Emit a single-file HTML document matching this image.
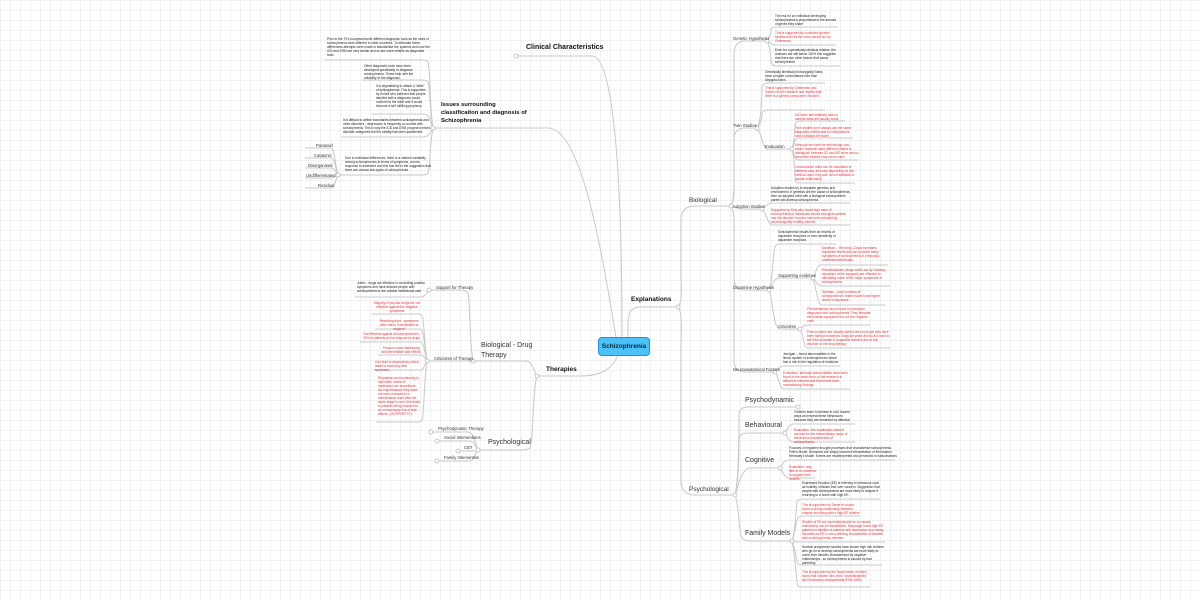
<!DOCTYPE html>
<html><head><meta charset="utf-8"><style>
html,body{margin:0;padding:0}
body{width:1200px;height:600px;position:relative;overflow:hidden;background-color:#fff;
background-image:linear-gradient(#f1f1f1 1px,transparent 1px),linear-gradient(90deg,#f1f1f1 1px,transparent 1px);background-size:10px 10px;
font-family:"Liberation Sans",sans-serif}
.t{position:absolute;font-size:8px;line-height:10px;color:#222;transform:scale(.4);transform-origin:0 0;width:calc(var(--w) * 2.5px)}
.r{color:#e8343b}
.b{position:absolute;font-weight:bold;font-size:7px;color:#111;line-height:10px}
.m{position:absolute;font-size:7px;color:#333;line-height:10px}
.s{position:absolute;font-size:8.4px;color:#333;transform:scale(.5);transform-origin:0 0;white-space:nowrap}
svg{position:absolute;left:0;top:0}
.c{position:absolute;left:598px;top:337px;width:50px;height:17px;background:#4cc2fa;border:1.5px solid #1f8fe6;border-radius:4px;font-weight:bold;font-size:6.5px;line-height:17px;text-align:center;color:#123}
</style></head><body>
<svg width="1200" height="600" fill="none" stroke="#c9c9c9" stroke-width="1">
<path d="M622 337 C622 160 612 56 592 56 L516 56"/>
<path d="M616 337 C600 240 580 128 548 128 L433 128"/>
<path d="M628 337 C628 320 626 307 640 307 L678 307"/>
<path d="M618 355 C612 370 600 376 580 376 L537 376"/>
<path d="M678 307 C683 300 681 290 681 270 L681 220 Q681 206 695 206 L731 206"/>
<path d="M678 307 C683 314 681 330 681 350 L681 480 Q681 495 695 495 L735 495"/>
<path d="M731 206 C735 200 734 190 734 170 L734 55 Q734 41 745 41 L767 41"/>
<path d="M731 206 C734 200 734 190 734 170 L734 140 Q734 128 745 128 L757 128"/>
<path d="M731 206 C734 206 734 209 745 209 L762 209"/>
<path d="M731 206 C735 212 734 222 734 240 L734 278 Q734 290 745 290 L769 290"/>
<path d="M731 206 C735 212 734 222 734 250 L734 360 Q734 372 745 372 L775 372"/>
<path d="M767 41 C770 36 771 32 771 30 Q771 27 776 27 L838 27"/>
<path d="M767 41 C770 42 770 45 776 45 L836 45"/>
<path d="M767 41 C770 46 771 58 771 60 Q771 66 776 66 L840 66"/>
<path d="M757 128 C762 120 762 90 762 88 Q762 83 768 83 L825 83"/>
<path d="M757 128 C762 122 762 115 762 114 Q762 110 768 110 L825 110"/>
<path d="M757 128 C762 134 762 145 766 149 L792 149"/>
<path d="M792 149 C795 140 794 125 796 123 Q796 121 800 121 L845 121"/>
<path d="M792 149 C795 144 794 140 796 139 Q797 138 800 138 L853 138"/>
<path d="M792 149 C795 154 794 158 796 159 Q797 160 800 160 L858 160"/>
<path d="M792 149 C795 158 794 180 796 182 Q797 183 800 183 L855 183"/>
<path d="M762 209 C766 206 768 203 772 203 L850 203"/>
<path d="M762 209 C766 212 768 225 772 225 L850 225"/>
<path d="M769 290 C773 280 773 250 775 247 Q776 244 780 244 L836 244"/>
<path d="M769 290 C773 285 773 278 780 278 L813 278"/>
<path d="M769 290 C773 300 773 329 780 329 L800 329"/>
<path d="M813 278 C817 270 817 266 820 265 L888 265"/>
<path d="M813 278 C817 282 817 286 822 286 L890 286"/>
<path d="M813 278 C817 290 817 305 822 305 L885 305"/>
<path d="M800 329 C804 326 804 325 808 325 L870 325"/>
<path d="M800 329 C804 335 803 348 808 348 L890 348"/>
<path d="M775 372 C779 369 779 366 784 366 L840 366"/>
<path d="M775 372 C779 376 779 389 784 389 L850 389"/>
<path d="M735 495 C739 480 739 420 739 415 Q739 407 748 407 L798 407"/>
<path d="M735 495 C739 480 739 445 739 440 Q739 433 748 433 L785 433"/>
<path d="M735 495 C739 485 739 475 748 468 L780 468"/>
<path d="M735 495 C739 505 739 530 741 536 Q743 541 750 541 L792 541"/>
<path d="M785 433 C788 428 789 424 794 424 L855 424"/>
<path d="M785 433 C788 438 789 442 794 442 L855 442"/>
<path d="M780 468 C783 463 784 460 790 460 L895 460"/>
<path d="M780 468 C783 472 784 478 790 478 L815 478"/>
<path d="M792 541 C796 530 796 505 797 502 Q798 499 802 499 L880 499"/>
<path d="M792 541 C796 530 796 520 798 518 Q799 516 803 516 L860 516"/>
<path d="M792 541 C796 542 796 542 802 542 L885 542"/>
<path d="M792 541 C796 550 796 562 798 564 Q800 565 803 565 L882 565"/>
<path d="M792 541 C796 560 796 584 798 586 Q800 587 803 587 L870 587"/>
<path d="M433 128 C430 115 430 65 428 62 Q427 60 422 60 L325 60"/>
<path d="M433 128 C430 115 430 85 428 82 Q427 80 422 80 L362 80"/>
<path d="M433 128 C430 122 430 117 428 116 Q427 114 422 114 L372 114"/>
<path d="M433 128 C430 132 430 136 424 137 L341 137"/>
<path d="M433 128 C430 140 430 170 428 173 Q427 175 422 175 L338 175"/>
<path d="M338 175 C335 165 335 150 331 148 L305 148"/>
<path d="M338 175 C335 168 335 158 331 158 L305 158"/>
<path d="M338 175 C335 172 335 168 331 168 L305 168"/>
<path d="M338 175 C335 176 335 178 331 178 L305 178"/>
<path d="M338 175 C335 180 335 188 331 188 L305 188"/>
<path d="M537 376 C533 370 533 361 525 361 L473 361"/>
<path d="M537 376 C533 385 533 445 530 448 Q528 450 520 450 L478 450"/>
<path d="M473 361 C470 350 470 300 468 293 Q466 290 460 290 L429 290"/>
<path d="M473 361 C470 361 470 361 465 361 L427 361"/>
<path d="M429 290 C426 294 425 297 420 297 L355 297"/>
<path d="M427 361 C424 340 424 318 422 316 Q421 314 418 314 L372 314"/>
<path d="M427 361 C424 345 424 331 421 329 L375 329"/>
<path d="M427 361 C424 350 424 344 421 342 L360 342"/>
<path d="M427 361 C424 357 424 356 421 355 L378 355"/>
<path d="M427 361 C424 365 424 370 421 370 L374 370"/>
<path d="M427 361 C424 380 424 418 422 420 Q421 422 418 422 L376 422"/>
<path d="M478 450 C474 440 474 433 468 432 L431 432"/>
<path d="M478 450 C474 444 474 441 468 441 L437 441"/>
<path d="M478 450 C475 451 474 451 470 451 L458 451"/>
<path d="M478 450 C474 456 474 461 468 461 L437 461"/>
</svg>
<svg width="1200" height="600" fill="#fff" stroke="#bbb" stroke-width="0.8">
<circle cx="516" cy="56" r="2"/><circle cx="678" cy="307" r="2"/><circle cx="731" cy="206" r="2"/><circle cx="735" cy="495" r="2"/>
<circle cx="767" cy="41" r="2"/><circle cx="757" cy="128" r="2"/><circle cx="792" cy="149" r="2"/><circle cx="762" cy="209" r="2"/><circle cx="769" cy="290" r="2"/><circle cx="813" cy="278" r="2"/><circle cx="800" cy="329" r="2"/><circle cx="775" cy="372" r="2"/>
<circle cx="798" cy="407" r="2"/><circle cx="785" cy="433" r="2"/><circle cx="780" cy="468" r="2"/><circle cx="792" cy="541" r="2"/>
<circle cx="433" cy="128" r="2"/><circle cx="338" cy="175" r="2"/><circle cx="537" cy="376" r="2"/><circle cx="473" cy="361" r="2"/><circle cx="478" cy="450" r="2"/><circle cx="429" cy="290" r="2"/><circle cx="427" cy="361" r="2"/>
<circle cx="431" cy="432" r="2"/><circle cx="437" cy="441" r="2"/><circle cx="458" cy="451" r="2"/><circle cx="437" cy="461" r="2"/>
</svg>

<div class="c">Schizophrenia</div>
<div class="b" style="left:526px;top:43px">Clinical Characteristics</div>
<div class="b" style="left:441px;top:101px;width:89px;font-size:5.9px;line-height:8px">Issues surrounding classificaiton and diagnosis of Schizophrenia</div>
<div class="b" style="left:631px;top:295px;font-size:6.5px">Explanations</div>
<div class="b" style="left:546px;top:365px;font-size:6.5px">Therapies</div>
<div class="m" style="left:689px;top:196px;font-size:6.5px">Biological</div>
<div class="m" style="left:689px;top:485px;font-size:6.5px">Psychological</div>
<div class="m" style="left:745px;top:396px">Psychodynamic</div>
<div class="m" style="left:745px;top:421px">Behavioural</div>
<div class="m" style="left:745px;top:456px">Cognitive</div>
<div class="m" style="left:745px;top:529px">Family Models</div>
<div class="m" style="left:481px;top:341px;width:60px">Biological - Drug Therapy</div>
<div class="m" style="left:488px;top:438px">Psychological</div>

<div class="s" style="left:733px;top:36px">Genetic Hypothesis</div>
<div class="s" style="left:733px;top:123px">Twin Studies</div>
<div class="s" style="left:733px;top:204px">Adoption Studies</div>
<div class="s" style="left:733px;top:285px">Dopamine Hypothesis</div>
<div class="s" style="left:733px;top:367px">Neuroanatomical Factors</div>
<div class="s r" style="left:765px;top:144px">Evaluation</div>
<div class="s r" style="left:778px;top:273px">Supporting evidence</div>
<div class="s r" style="left:778px;top:324px">Criticisms</div>
<div class="s" style="left:436px;top:285px">Support for Therapy</div>
<div class="s r" style="left:434px;top:356px">Criticisms of Therapy</div>
<div class="s" style="left:438px;top:426px">Psychodynamic Therapy</div>
<div class="s" style="left:444px;top:435px">Social Interventions</div>
<div class="s" style="left:464px;top:445px">CBT</div>
<div class="s" style="left:444px;top:455px">Family Intervention</div>
<div class="s" style="left:316px;top:143px">Paranoid</div>
<div class="s" style="left:314px;top:153px">Catatonic</div>
<div class="s" style="left:308px;top:163px">Disorganised</div>
<div class="s" style="left:306px;top:173px">Undifferentiated</div>
<div class="s" style="left:318px;top:183px">Residual</div>

<div class="t" style="left:775px;top:14px;--w:64">The risk for an individual developing schizophrenia is proportional to the amount of genes they share</div>
<div class="t r" style="left:775px;top:31px;--w:62">This is supported by controlled genetic studies such as the ones carried out by Gottesman</div>
<div class="t" style="left:775px;top:48px;--w:66">Even for a genetically identical relative, the chances are still below 100% this suggests that there are other factors that cause schizophrenia</div>
<div class="t" style="left:765px;top:70px;--w:62">Genetically identical (monozygotic) twins have a higher concordance rate than dizygotic twins.</div>
<div class="t r" style="left:765px;top:86px;--w:58">This is supported by Gottesman and Cardno et al's research and implies that there is a genetic component involved</div>
<div class="t r" style="left:795px;top:113px;--w:52">MZ twins are relatively rare so sample sizes are usually small</div>
<div class="t r" style="left:795px;top:126px;--w:58">Twin studies don't always use the same diagnostic criteria and so comparisons cannot always be made</div>
<div class="t r" style="left:795px;top:143px;--w:64">Although we have the technology now, earlier research used different criteria to distinguish between DZ and MZ twins and so the earlier studies may not be valid</div>
<div class="t r" style="left:795px;top:165px;--w:60">Concordance rates can be calculated in different ways and vary depending on the method used, they also do not establish a causal relationship</div>
<div class="t" style="left:771px;top:186px;--w:80">Adoption studies try to separate genetics and environment. If genetics are the cause of schizophrenia, then an adopted child with a biological schizophrenic parent will develop schizophrenia</div>
<div class="t r" style="left:771px;top:208px;--w:80">Supported by Kety who found high rates of schizophrenia in individuals whose biological parents had the disorder but who had been adopted by psychologically healthy parents</div>
<div class="t" style="left:778px;top:230px;--w:60">Schizophrenia results from an excess of dopamine receptors or over-sensitivity of dopamine receptors</div>
<div class="t r" style="left:822px;top:246px;--w:67">Davidson – the drug L-Dopa increases dopamine levels and can produce many symptoms of schizophrenia in previously unaffected individuals</div>
<div class="t r" style="left:822px;top:268px;--w:68">Phenothiazines (drugs which act by blocking dopamine at the synapse) are effective in alleviating some of the major symptoms of schizophrenia</div>
<div class="t r" style="left:822px;top:290px;--w:60">Seeman – post mortems of schizophrenia's brains have found higher levels of dopamine</div>
<div class="t r" style="left:807px;top:307px;--w:64">Phenothiazines do not work for everyone diagnosed with schizophrenia. They alleviate the positive symptoms but not the negative ones</div>
<div class="t r" style="left:807px;top:330px;--w:83">Post mortems are usually carried out on people who have been taking neuroleptic drugs for years and so it is hard to tell if the increase in dopamine levels is due to the disorder or the drug therapy</div>
<div class="t" style="left:783px;top:352px;--w:58">Jernigan – found abnormalities in the limbic system of schizophrenics which has a role in the regulation of emotions</div>
<div class="t r" style="left:783px;top:371px;--w:68">Evaluation: although abnormalities have been found in the brain much of the research is difficult to interpret and there have been contradictory findings.</div>
<div class="t" style="left:794px;top:410px;--w:60">Children learn to behave in odd, bizarre ways and repeat these behaviours because they are rewarded by attention</div>
<div class="t r" style="left:794px;top:428px;--w:60">Evaluation: this explanation doesn't account for the extraordinary range of behaviours characteristic of schizophrenia.</div>
<div class="t" style="left:789px;top:446px;--w:108">Focuses on impaired thought processes that characterise schizophrenia. Frith's Model: Delusions are simply incorrect interpretation of information. Helmsley's Model: Events are misinterpreted and perceived in hallucinations</div>
<div class="t r" style="left:789px;top:465px;--w:28">Evaluation: very little to no evidence to support both models</div>
<div class="t" style="left:802px;top:481px;--w:80">Expressed Emotion (EE) is referring to behaviour such as hostility, criticism and over concern. Suggestion that people with schizophrenia are more likely to relapse if returning to a home with high EE.</div>
<div class="t r" style="left:802px;top:503px;--w:58">This is supported by Tarrier et al who found a strong relationship between relapse and living with a high EE relative</div>
<div class="t r" style="left:802px;top:520px;--w:84">Studies of EE are correlational and so no causal relationship can be established. Kavanagh found high EE patterns in families of patients with depression and eating disorders so EE is not a defining characteristic of families with a schizophrenic member.</div>
<div class="t" style="left:802px;top:545px;--w:82">Several prospective studies have shown high risk children who go on to develop schizophrenia are more likely to come from families characterised by negative relationships - so schizophrenia is caused by bad parenting</div>
<div class="t r" style="left:802px;top:570px;--w:70">This is supported by the Israeli study of which found that children who lived "unpredictability" did not develop schizophrenia (Frith 1992)</div>

<div class="t" style="left:327px;top:37px;--w:104">Prior to the 70's european/world different diagnostic tools as the rates of schizophrenia were different in other countries. To eliminate these differences attempts were made to standardise the systems and now the ICD and DSM are very similar and so are more reliable as diagnostic tools</div>
<div class="t" style="left:364px;top:64px;--w:62">Other diagnostic tools have been developed specifically to diagnose schizophrenia. These help with the reliability of the diagnosis.</div>
<div class="t" style="left:376px;top:84px;--w:50">It is stigmatising to attach a "label" of schizophrenia. This is supported by Scheff who believed that people labelled with a diagnosis would conform to the label and it would become a self fulfilling prophecy.</div>
<div class="t" style="left:343px;top:118px;--w:88">It is difficult to define boundaries between schizophrenia and other disorders - depression is frequently co-morbid with schizophrenia. This is why the ICD and DSM proposed mixed disorder categories but the validity has been questioned.</div>
<div class="t" style="left:345px;top:156px;--w:86">Due to individual differences, there is a marked variability among schizophrenics in terms of symptoms, course, response to treatment and this has led to the suggestion that there are various sub-types of schizophrenia</div>
<div class="t" style="left:357px;top:281px;--w:70">Julien - drugs are effective in controlling positive symptoms and have allowed people with schizophrenia to live outside institutional care</div>
<div class="t r" style="left:373px;top:301px;--w:48;text-align:center">Majority of popular drugs are not effective against the negative symptoms</div>
<div class="t r" style="left:377px;top:319px;--w:44;text-align:center">Revolving door - symptoms often return if medication is stopped</div>
<div class="t r" style="left:362px;top:332px;--w:59;text-align:center">Not effective against all schizophrenics, 30% of patients do not respond to drugs</div>
<div class="t r" style="left:381px;top:346px;--w:40;text-align:center">Produce some distressing and irreversible side effects</div>
<div class="t r" style="left:375px;top:360px;--w:46">Can lead to dependency which leads to revolving door syndrome</div>
<div class="t r" style="left:378px;top:376px;--w:42">Regulation and monitoring is important, doses of medication are sometimes too high because they have not been reduced to a maintenance level after the acute stage is over, this leads to patients being exposed to an unnecessary risk of side effects - (SUPPORTS?)</div>
</body></html>
